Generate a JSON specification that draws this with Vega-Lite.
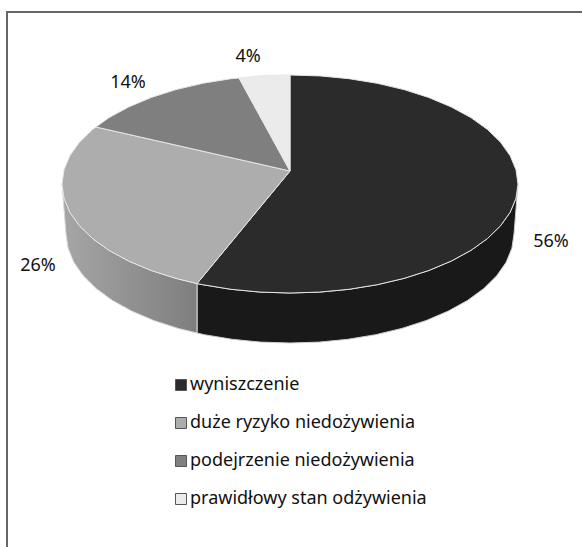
{"$schema":"https://vega.github.io/schema/vega-lite/v6.json","width":582,"height":547,"padding":0,"autosize":{"type":"none"},"background":"white","view":{"stroke":null},"config":{"font":"Noto Sans"},
"datasets":{
"frame":[{"v":1,"x":7,"y":547},{"v":2,"x":7,"y":12},{"v":3,"x":582,"y":12}],
"shares":[{"slice":"wyniszczenie","share":0.56,"x":551,"y":242},{"slice":"duże ryzyko niedożywienia","share":0.26,"x":38,"y":266},{"slice":"podejrzenie niedożywienia","share":0.14,"x":128,"y":83},{"slice":"prawidłowy stan odżywienia","share":0.04,"x":248,"y":57}],
"wallDark":[{"v":1,"x":518,"y":184},{"v":2,"x":516,"y":198.2},{"v":3,"x":510.2,"y":212.2},{"v":4,"x":500.6,"y":225.7},{"v":5,"x":487.5,"y":238.5},{"v":6,"x":470.9,"y":250.4},{"v":7,"x":451.2,"y":261.1},{"v":8,"x":428.8,"y":270.5},{"v":9,"x":404,"y":278.4},{"v":10,"x":377.3,"y":284.7},{"v":11,"x":349,"y":289.3},{"v":12,"x":319.8,"y":292.1},{"v":13,"x":290,"y":293},{"v":14,"x":260.2,"y":292.1},{"v":15,"x":231,"y":289.3},{"v":16,"x":202.7,"y":284.7},{"v":17,"x":197,"y":283.6},{"v":18,"x":197,"y":333},{"v":19,"x":204.3,"y":334.7},{"v":20,"x":232.1,"y":339.3},{"v":21,"x":260.7,"y":342.1},{"v":22,"x":290,"y":343},{"v":23,"x":319.3,"y":342.1},{"v":24,"x":347.9,"y":339.3},{"v":25,"x":375.7,"y":334.7},{"v":26,"x":401.9,"y":328.4},{"v":27,"x":426.3,"y":320.5},{"v":28,"x":448.3,"y":311.1},{"v":29,"x":467.6,"y":300.4},{"v":30,"x":483.9,"y":288.5},{"v":31,"x":496.8,"y":275.7},{"v":32,"x":506.2,"y":262.2},{"v":33,"x":511.9,"y":248.2},{"v":34,"x":514,"y":234},{"v":35,"x":518,"y":184}],
"wallLight":[{"v":1,"x":197,"y":283.6},{"v":2,"x":176,"y":278.4},{"v":3,"x":151.2,"y":270.5},{"v":4,"x":128.8,"y":261.1},{"v":5,"x":109.1,"y":250.4},{"v":6,"x":92.5,"y":238.5},{"v":7,"x":79.4,"y":225.7},{"v":8,"x":69.8,"y":212.2},{"v":9,"x":64,"y":198.2},{"v":10,"x":62,"y":184},{"v":11,"x":66,"y":234},{"v":12,"x":68.1,"y":248.2},{"v":13,"x":73.8,"y":262.2},{"v":14,"x":83.2,"y":275.7},{"v":15,"x":96.1,"y":288.5},{"v":16,"x":112.4,"y":300.4},{"v":17,"x":131.7,"y":311.1},{"v":18,"x":153.7,"y":320.5},{"v":19,"x":178.1,"y":328.4},{"v":20,"x":197,"y":333},{"v":21,"x":197,"y":283.6}],
"top":[
{"slice":"wyniszczenie","v":1,"x":290,"y":171},{"slice":"wyniszczenie","v":2,"x":290,"y":75},{"slice":"wyniszczenie","v":3,"x":319.8,"y":75.9},{"slice":"wyniszczenie","v":4,"x":349,"y":78.7},{"slice":"wyniszczenie","v":5,"x":377.3,"y":83.3},{"slice":"wyniszczenie","v":6,"x":404,"y":89.6},{"slice":"wyniszczenie","v":7,"x":428.8,"y":97.5},{"slice":"wyniszczenie","v":8,"x":451.2,"y":106.9},{"slice":"wyniszczenie","v":9,"x":470.9,"y":117.6},{"slice":"wyniszczenie","v":10,"x":487.5,"y":129.5},{"slice":"wyniszczenie","v":11,"x":500.6,"y":142.3},{"slice":"wyniszczenie","v":12,"x":510.2,"y":155.8},{"slice":"wyniszczenie","v":13,"x":516,"y":169.8},{"slice":"wyniszczenie","v":14,"x":518,"y":184},{"slice":"wyniszczenie","v":15,"x":516,"y":198.2},{"slice":"wyniszczenie","v":16,"x":510.2,"y":212.2},{"slice":"wyniszczenie","v":17,"x":500.6,"y":225.7},{"slice":"wyniszczenie","v":18,"x":487.5,"y":238.5},{"slice":"wyniszczenie","v":19,"x":470.9,"y":250.4},{"slice":"wyniszczenie","v":20,"x":451.2,"y":261.1},{"slice":"wyniszczenie","v":21,"x":428.8,"y":270.5},{"slice":"wyniszczenie","v":22,"x":404,"y":278.4},{"slice":"wyniszczenie","v":23,"x":377.3,"y":284.7},{"slice":"wyniszczenie","v":24,"x":349,"y":289.3},{"slice":"wyniszczenie","v":25,"x":319.8,"y":292.1},{"slice":"wyniszczenie","v":26,"x":290,"y":293},{"slice":"wyniszczenie","v":27,"x":260.2,"y":292.1},{"slice":"wyniszczenie","v":28,"x":231,"y":289.3},{"slice":"wyniszczenie","v":29,"x":202.7,"y":284.7},{"slice":"wyniszczenie","v":30,"x":197,"y":283.6},{"slice":"wyniszczenie","v":31,"x":290,"y":171},
{"slice":"duże ryzyko niedożywienia","v":1,"x":290,"y":171},{"slice":"duże ryzyko niedożywienia","v":2,"x":197,"y":283.6},{"slice":"duże ryzyko niedożywienia","v":3,"x":176,"y":278.4},{"slice":"duże ryzyko niedożywienia","v":4,"x":151.2,"y":270.5},{"slice":"duże ryzyko niedożywienia","v":5,"x":128.8,"y":261.1},{"slice":"duże ryzyko niedożywienia","v":6,"x":109.1,"y":250.4},{"slice":"duże ryzyko niedożywienia","v":7,"x":92.5,"y":238.5},{"slice":"duże ryzyko niedożywienia","v":8,"x":79.4,"y":225.7},{"slice":"duże ryzyko niedożywienia","v":9,"x":69.8,"y":212.2},{"slice":"duże ryzyko niedożywienia","v":10,"x":64,"y":198.2},{"slice":"duże ryzyko niedożywienia","v":11,"x":62,"y":184},{"slice":"duże ryzyko niedożywienia","v":12,"x":64,"y":169.8},{"slice":"duże ryzyko niedożywienia","v":13,"x":69.8,"y":155.8},{"slice":"duże ryzyko niedożywienia","v":14,"x":79.4,"y":142.3},{"slice":"duże ryzyko niedożywienia","v":15,"x":92.5,"y":129.5},{"slice":"duże ryzyko niedożywienia","v":16,"x":96,"y":127},{"slice":"duże ryzyko niedożywienia","v":17,"x":290,"y":171},
{"slice":"podejrzenie niedożywienia","v":1,"x":290,"y":171},{"slice":"podejrzenie niedożywienia","v":2,"x":96,"y":127},{"slice":"podejrzenie niedożywienia","v":3,"x":109.1,"y":117.6},{"slice":"podejrzenie niedożywienia","v":4,"x":128.8,"y":106.9},{"slice":"podejrzenie niedożywienia","v":5,"x":151.2,"y":97.5},{"slice":"podejrzenie niedożywienia","v":6,"x":176,"y":89.6},{"slice":"podejrzenie niedożywienia","v":7,"x":202.7,"y":83.3},{"slice":"podejrzenie niedożywienia","v":8,"x":231,"y":78.7},{"slice":"podejrzenie niedożywienia","v":9,"x":239,"y":78},{"slice":"podejrzenie niedożywienia","v":10,"x":290,"y":171},
{"slice":"prawidłowy stan odżywienia","v":1,"x":290,"y":171},{"slice":"prawidłowy stan odżywienia","v":2,"x":239,"y":78},{"slice":"prawidłowy stan odżywienia","v":3,"x":260.2,"y":75.9},{"slice":"prawidłowy stan odżywienia","v":4,"x":290,"y":75},{"slice":"prawidłowy stan odżywienia","v":5,"x":290,"y":171}]
},
"encoding":{"x":{"field":"x","type":"quantitative","scale":{"domain":[0,582],"nice":false,"zero":false},"axis":null},"y":{"field":"y","type":"quantitative","scale":{"domain":[547,0],"nice":false,"zero":false},"axis":null}},
"layer":[
{"data":{"name":"frame"},"mark":{"type":"line","stroke":"#666666","strokeWidth":2,"clip":false},"encoding":{"order":{"field":"v"}}},
{"data":{"name":"wallDark"},"mark":{"type":"line","fill":"#191919","stroke":"#cfcfcf","strokeWidth":1},"encoding":{"order":{"field":"v"}}},
{"data":{"name":"wallLight"},"mark":{"type":"line","fill":{"gradient":"linear","x1":0,"y1":0,"x2":1,"y2":0,"stops":[{"offset":0,"color":"#a6a6a6"},{"offset":1,"color":"#7e7e7e"}]},"stroke":"#d8d8d8","strokeWidth":1},"encoding":{"order":{"field":"v"}}},
{"data":{"name":"top"},"mark":{"type":"line","stroke":"#e6e6e6","strokeWidth":1},"encoding":{"order":{"field":"v"},"detail":{"field":"slice"},"fill":{"field":"slice","type":"nominal","scale":{"domain":["wyniszczenie","duże ryzyko niedożywienia","podejrzenie niedożywienia","prawidłowy stan odżywienia"],"range":["#2b2b2b","#adadad","#7f7f7f","#ebebeb"]},"legend":{"orient":"none","legendX":172,"legendY":376,"title":null,"symbolType":"square","symbolSize":121,"symbolStrokeColor":"#555555","symbolStrokeWidth":1,"labelFontSize":18,"labelFont":"Noto Sans","labelColor":"#111111","labelLimit":300,"rowPadding":20,"labelOffset":0,"symbolOffset":0}}}},
{"data":{"name":"shares"},"mark":{"type":"text","fontSize":18,"font":"Noto Sans","color":"#111111","align":"center","baseline":"middle"},"encoding":{"text":{"field":"share","type":"quantitative","format":".0%"}}}
]}
